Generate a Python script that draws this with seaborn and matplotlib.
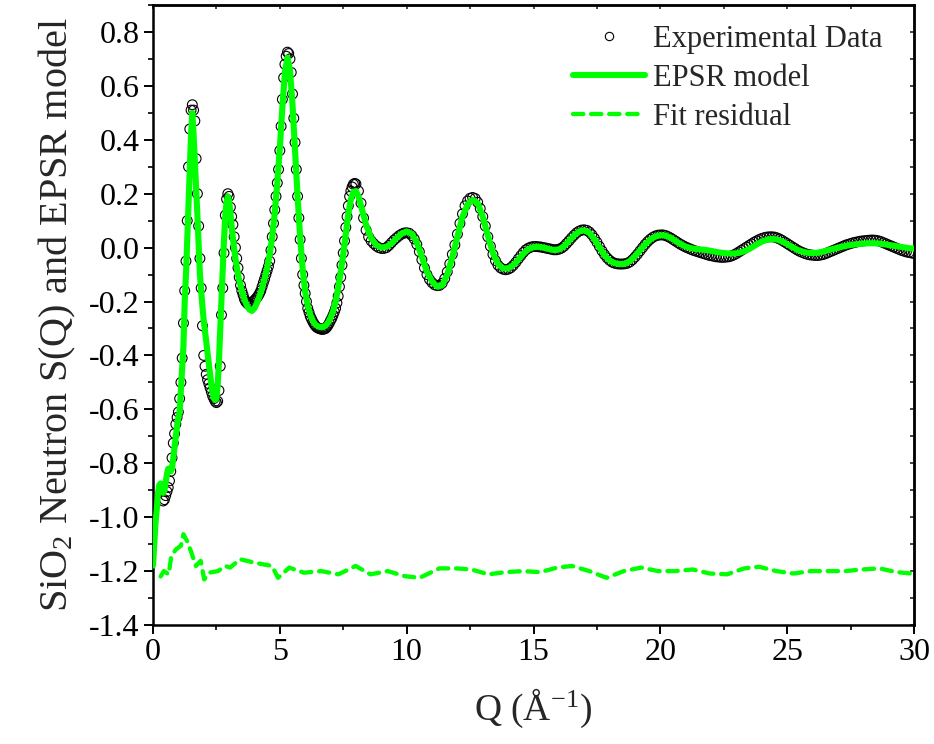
import numpy as np
import pandas as pd
import matplotlib
matplotlib.use("Agg")
import matplotlib.pyplot as plt
from matplotlib.lines import Line2D
from matplotlib.ticker import MultipleLocator, FormatStrFormatter, NullFormatter
import seaborn as sns

# ---------------- data ----------------
# Experimental S(Q): three sampled segments (start Q, step, values)
exp_low_start, exp_low_step = 0.40, 0.05
exp_low = [-0.94, -0.935, -0.92, -0.905, -0.89, -0.865, -0.83, -0.78, -0.725, -0.69,
           -0.655, -0.63, -0.61, -0.56, -0.50, -0.41, -0.28, -0.16, -0.05, 0.10,
           0.30, 0.44, 0.51, 0.53, 0.51, 0.47, 0.33, 0.20, 0.08, -0.04,
           -0.15, -0.29, -0.40, -0.44, -0.47, -0.49, -0.505, -0.52, -0.535, -0.55,
           -0.56, -0.57, -0.575, -0.57, -0.53, -0.44, -0.25, -0.15, -0.02, 0.12,
           0.18, 0.20, 0.19, 0.15, 0.115, 0.085, 0.04, 0.0, -0.04, -0.075,
           -0.11, -0.14, -0.16, -0.175, -0.19, -0.20, -0.205, -0.21, -0.212, -0.21,
           -0.205, -0.20]
exp_mid_start, exp_mid_step = 4.00, 0.05
exp_mid = [-0.195, -0.19, -0.185, -0.178, -0.17, -0.16, -0.145, -0.13, -0.116, -0.10,
           -0.085, -0.07, -0.05, -0.01, 0.04, 0.09, 0.14, 0.19, 0.24, 0.29,
           0.36, 0.45, 0.55, 0.63, 0.68, 0.71, 0.725, 0.72, 0.70, 0.65,
           0.57, 0.48, 0.39, 0.29, 0.19, 0.11, 0.03, -0.04, -0.10, -0.14,
           -0.17, -0.20, -0.225, -0.24, -0.255, -0.265, -0.275, -0.283, -0.29, -0.295,
           -0.298, -0.30, -0.302, -0.303, -0.303, -0.302, -0.30, -0.295, -0.288, -0.28,
           -0.27, -0.262, -0.25, -0.238, -0.225, -0.205, -0.18, -0.145, -0.11, -0.065,
           -0.02, 0.025, 0.075, 0.115, 0.155, 0.19, 0.21, 0.225, 0.235, 0.238]
exp_high_start, exp_high_step = 8.0, 0.1
exp_high = [0.236, 0.21, 0.165, 0.11, 0.065, 0.04, 0.025, 0.015, 0.006, 0.0,
            -0.003, -0.003, 0.0, 0.008, 0.018, 0.028, 0.036, 0.044, 0.05, 0.054,
            0.055, 0.053, 0.045, 0.032, 0.012, -0.015, -0.045, -0.075, -0.10, -0.118,
            -0.13, -0.138, -0.141, -0.14, -0.132, -0.115, -0.09, -0.06, -0.025, 0.01,
            0.05, 0.09, 0.125, 0.155, 0.173, 0.183, 0.186, 0.182, 0.168, 0.145,
            0.115, 0.08, 0.04, 0.005, -0.025, -0.048, -0.065, -0.075, -0.08, -0.082,
            -0.08, -0.075, -0.066, -0.055, -0.042, -0.03, -0.018, -0.008, -0.002, 0.002,
            0.004, 0.004, 0.003, 0.002, 0.0, -0.002, -0.004, -0.006, -0.008, -0.008,
            -0.006, -0.002, 0.005, 0.015, 0.025, 0.036, 0.046, 0.055, 0.061, 0.065,
            0.066, 0.064, 0.058, 0.048, 0.035, 0.02, 0.004, -0.012, -0.026, -0.038,
            -0.047, -0.054, -0.058, -0.06, -0.061, -0.061, -0.06, -0.058, -0.053, -0.045,
            -0.035, -0.024, -0.012, 0.0, 0.012, 0.022, 0.031, 0.038, 0.043, 0.046,
            0.047, 0.047, 0.045, 0.041, 0.036, 0.03, 0.024, 0.018, 0.012, 0.007,
            0.002, -0.002, -0.006, -0.01, -0.013, -0.016, -0.019, -0.022, -0.025, -0.028,
            -0.03, -0.032, -0.034, -0.035, -0.036, -0.036, -0.035, -0.034, -0.031, -0.027,
            -0.022, -0.016, -0.01, -0.004, 0.002, 0.008, 0.014, 0.02, 0.025, 0.03,
            0.034, 0.037, 0.039, 0.04, 0.04, 0.039, 0.036, 0.032, 0.027, 0.021,
            0.015, 0.009, 0.003, -0.003, -0.009, -0.014, -0.018, -0.022, -0.025, -0.027,
            -0.028, -0.029, -0.029, -0.028, -0.026, -0.023, -0.019, -0.015, -0.011, -0.007,
            -0.003, 0.001, 0.005, 0.009, 0.012, 0.015, 0.018, 0.02, 0.022, 0.024,
            0.025, 0.026, 0.027, 0.028, 0.028, 0.027, 0.025, 0.022, 0.018, 0.014,
            0.01, 0.006, 0.002, -0.002, -0.006, -0.01, -0.013, -0.016, -0.018, -0.02,
            -0.022]

# EPSR model: three sampled segments
mod_low_start, mod_low_step = 0.00, 0.05
mod_low = [-1.18, -1.10, -1.02, -0.97, -0.91, -0.88, -0.875, -0.895, -0.91, -0.90,
           -0.87, -0.84, -0.82, -0.82, -0.83, -0.82, -0.78, -0.74, -0.70, -0.66,
           -0.63, -0.61, -0.53, -0.45, -0.365, -0.20, -0.10, 0.03, 0.17, 0.30,
           0.42, 0.50, 0.42, 0.32, 0.22, 0.12, 0.01, -0.10, -0.16, -0.22,
           -0.27, -0.31, -0.35, -0.39, -0.43, -0.47, -0.51, -0.54, -0.56, -0.565,
           -0.56, -0.51, -0.42, -0.30, -0.19, -0.08, 0.03, 0.12, 0.17, 0.19,
           0.175, 0.13, 0.08, 0.035, -0.005, -0.04, -0.07, -0.10, -0.12, -0.14]
mod_mid_start, mod_mid_step = 3.5, 0.1
mod_mid = [-0.16, -0.19, -0.215, -0.23, -0.235, -0.225, -0.205, -0.18, -0.15, -0.115,
           -0.075, -0.025, 0.04, 0.13, 0.24, 0.37, 0.52, 0.65, 0.705, 0.66,
           0.53, 0.36, 0.19, 0.04, -0.08, -0.165, -0.215, -0.25, -0.272, -0.285,
           -0.292, -0.295, -0.295, -0.29, -0.278, -0.26, -0.235, -0.20, -0.15, -0.09,
           -0.025, 0.05, 0.125, 0.18, 0.207, 0.21, 0.19]
mod_high_start, mod_high_step = 8.2, 0.2
mod_high = [0.155, 0.085, 0.035, 0.01, 0.0, 0.003, 0.015, 0.035, 0.052, 0.06,
            0.052, 0.02, -0.035, -0.09, -0.125, -0.145, -0.14, -0.10, -0.035, 0.04,
            0.115, 0.16, 0.177, 0.165, 0.115, 0.045, -0.02, -0.06, -0.077, -0.077,
            -0.065, -0.045, -0.022, -0.006, 0.002, 0.003, 0.0, -0.005, -0.009, -0.007,
            0.005, 0.025, 0.045, 0.06, 0.064, 0.055, 0.032, 0.0, -0.028, -0.048,
            -0.058, -0.061, -0.06, -0.05, -0.032, -0.01, 0.012, 0.03, 0.041, 0.046,
            0.045, 0.037, 0.025, 0.013, 0.004, -0.002, -0.005, -0.007, -0.009, -0.012,
            -0.016, -0.019, -0.021, -0.022, -0.021, -0.017, -0.01, 0.0, 0.012, 0.022,
            0.029, 0.032, 0.03, 0.023, 0.013, 0.002, -0.008, -0.015, -0.019, -0.02,
            -0.019, -0.015, -0.01, -0.005, 0.0, 0.004, 0.008, 0.011, 0.013, 0.015,
            0.016, 0.016, 0.015, 0.013, 0.01, 0.007, 0.004, 0.001, -0.002, -0.004]

# Fit residual (offset curve)
res_q = [0.30, 0.43, 0.62, 0.72, 0.91, 1.10, 1.20, 1.35, 1.49, 1.69, 1.88, 2.02, 2.21,
         2.56, 2.85, 3.04, 3.43, 4.01, 4.69, 4.93, 5.37, 5.95, 6.63, 7.31, 7.99, 8.57,
         9.25, 9.93, 10.51, 11.29, 11.96, 12.55, 13.22, 13.90, 14.58, 15.26, 15.94,
         16.52, 17.20, 17.88, 18.56, 19.24, 19.91, 20.59, 21.27, 21.95, 22.63, 23.31,
         23.89, 24.57, 25.25, 25.93, 26.60, 27.28, 27.96, 28.64, 29.32, 30.00]
res_s = [-1.22, -1.20, -1.212, -1.144, -1.119, -1.106, -1.063, -1.09, -1.125, -1.181,
         -1.162, -1.231, -1.206, -1.20, -1.181, -1.187, -1.156, -1.169, -1.181, -1.225,
         -1.187, -1.206, -1.20, -1.212, -1.181, -1.212, -1.20, -1.219, -1.225, -1.19,
         -1.19, -1.194, -1.212, -1.204, -1.20, -1.204, -1.187, -1.181, -1.20, -1.225,
         -1.20, -1.187, -1.20, -1.20, -1.194, -1.209, -1.212, -1.19, -1.184, -1.20,
         -1.209, -1.20, -1.20, -1.20, -1.194, -1.19, -1.204, -1.21]

legend_labels = ["Experimental Data", "EPSR model", "Fit residual"]
x_label = "Q (Å$^{\\mathregular{-1}}$)"
y_label = "SiO$_{\\mathregular{2}}$ Neutron S(Q) and EPSR model"


def segment(start, step, vals):
    q = np.round(start + step * np.arange(len(vals)), 3)
    return q, np.asarray(vals, dtype=float)


segs_exp = [segment(exp_low_start, exp_low_step, exp_low),
            segment(exp_mid_start, exp_mid_step, exp_mid),
            segment(exp_high_start, exp_high_step, exp_high)]
segs_mod = [segment(mod_low_start, mod_low_step, mod_low),
            segment(mod_mid_start, mod_mid_step, mod_mid),
            segment(mod_high_start, mod_high_step, mod_high)]

df_exp = pd.DataFrame({"Q": np.concatenate([s[0] for s in segs_exp]),
                       "S": np.concatenate([s[1] for s in segs_exp])})
df_mod = pd.DataFrame({"Q": np.concatenate([s[0] for s in segs_mod]),
                       "S": np.concatenate([s[1] for s in segs_mod])})
df_res = pd.DataFrame({"Q": res_q, "S": res_s})

# ---------------- style ----------------
sns.set_style("ticks")
plt.rcParams['font.family'] = ['Liberation Serif', 'DejaVu Serif']
plt.rcParams['mathtext.fontset'] = 'custom'
plt.rcParams['mathtext.rm'] = 'Liberation Serif'
plt.rcParams['mathtext.it'] = 'Liberation Serif:italic'
plt.rcParams['axes.unicode_minus'] = False

GREEN = "#00ff00"
RES_LW = 3.1
RES_DASH = (2.4, 1.8)

fig = plt.figure(figsize=(9.34, 7.44), dpi=100)
ax = fig.add_axes([153 / 934, 119 / 744, 761 / 934, 620 / 744])

sns.scatterplot(data=df_exp, x="Q", y="S", ax=ax, marker="o", s=50,
                facecolors="none", edgecolor="black", linewidth=0.8,
                legend=False, zorder=2)
sns.lineplot(data=df_mod, x="Q", y="S", ax=ax, color=GREEN, linewidth=4.4,
             estimator=None, sort=False, legend=False, zorder=3)
sns.lineplot(data=df_res, x="Q", y="S", ax=ax, color=GREEN, linewidth=RES_LW,
             estimator=None, sort=False, legend=False, zorder=3)
res_line = ax.lines[-1]
res_line.set_dashes(RES_DASH)
res_line.set_dash_capstyle("round")

ax.set_xlim(0, 30)
ax.set_ylim(-1.4, 0.9)

ax.xaxis.set_major_locator(MultipleLocator(5))
ax.xaxis.set_minor_locator(MultipleLocator(2.5))
ax.yaxis.set_major_locator(MultipleLocator(0.2))
ax.yaxis.set_minor_locator(MultipleLocator(0.1))
ax.yaxis.set_major_formatter(FormatStrFormatter("%.1f"))
ax.xaxis.set_major_formatter(FormatStrFormatter("%d"))

for sp in ax.spines.values():
    sp.set_linewidth(1.8)
    sp.set_color("black")
    sp.set_visible(True)

ax.tick_params(axis="both", which="major", direction="out", length=6.5, width=1.4,
               labelsize=23, colors="black", top=False, right=False, pad=3)
ax.tick_params(axis="both", which="minor", direction="out", length=3.5, width=1.4,
               top=False, right=False)

top = ax.secondary_xaxis("top")
top.xaxis.set_major_locator(MultipleLocator(2.5))
top.xaxis.set_major_formatter(NullFormatter())
top.tick_params(direction="in", length=3, width=1.2)
top.spines["top"].set_linewidth(1.8)
right = ax.secondary_yaxis("right")
right.yaxis.set_major_locator(MultipleLocator(0.1))
right.yaxis.set_major_formatter(NullFormatter())
right.tick_params(direction="in", length=3, width=1.2)
right.spines["right"].set_linewidth(1.8)

ax.set_xlabel(x_label, fontsize=27, labelpad=14)
ax.set_ylabel(y_label, fontsize=29, labelpad=8)
ax.grid(False)

handles = [
    Line2D([], [], linestyle="none", marker="o", markersize=6, markerfacecolor="none",
           markeredgecolor="black", markeredgewidth=0.8),
    Line2D([], [], color=GREEN, linewidth=4.4),
    Line2D([], [], color=GREEN, linewidth=RES_LW, dashes=RES_DASH, dash_capstyle="round"),
]
ax.legend(handles, legend_labels, loc="upper left", bbox_to_anchor=(0.552, 0.968),
          frameon=False, fontsize=22, handlelength=2.35, handletextpad=0.25,
          labelspacing=0.33, borderpad=0.0, borderaxespad=0.0, numpoints=1)

fig.savefig("out.png", dpi=100)
